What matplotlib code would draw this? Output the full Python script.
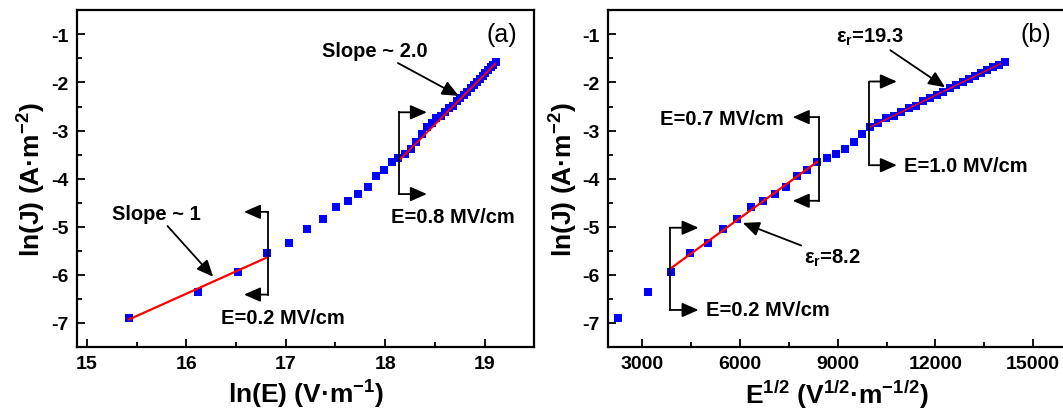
import numpy as np
import matplotlib
matplotlib.use("Agg")
import matplotlib.pyplot as plt
from matplotlib.ticker import MultipleLocator

plt.rcParams['font.family'] = ['Liberation Sans', 'DejaVu Sans']
plt.rcParams['font.weight'] = 'bold'
plt.rcParams['axes.unicode_minus'] = False
plt.rcParams['mathtext.fontset'] = 'custom'
plt.rcParams['mathtext.rm'] = 'Liberation Sans:bold'
plt.rcParams['mathtext.it'] = 'Liberation Sans:bold'
plt.rcParams['mathtext.bf'] = 'Liberation Sans:bold'

# applied field (MV/cm) and measured current density ln(J)
E_MVcm = [0.05, 0.10, 0.15, 0.20, 0.25, 0.30, 0.35, 0.40, 0.45, 0.50,
          0.55, 0.60, 0.65, 0.70, 0.75, 0.80, 0.85, 0.90, 0.95, 1.00,
          1.05, 1.10, 1.15, 1.20, 1.25, 1.30, 1.35, 1.40, 1.45, 1.50,
          1.55, 1.60, 1.65, 1.70, 1.75, 1.80, 1.85, 1.90, 1.95, 2.00]
lnJ = [-6.89, -6.35, -5.94, -5.54, -5.33, -5.05, -4.84, -4.59, -4.47, -4.32,
       -4.17, -3.94, -3.82, -3.66, -3.58, -3.48, -3.39, -3.24, -3.08, -2.93,
       -2.84, -2.74, -2.69, -2.62, -2.53, -2.48, -2.39, -2.32, -2.27, -2.20,
       -2.12, -2.05, -1.99, -1.92, -1.86, -1.80, -1.74, -1.68, -1.63, -1.58]

# fitted line end points
fit_a1_x = [15.42, 16.81]
fit_a1_y = [-6.93, -5.64]
fit_a2_x = [18.15, 19.11]
fit_a2_y = [-3.60, -1.61]
fit_b1_x = [3880, 8370]
fit_b1_y = [-5.86, -3.65]
fit_b2_x = [9960, 14000]
fit_b2_y = [-2.94, -1.61]

E_Vm = np.array(E_MVcm) * 1e8
lnE = np.log(E_Vm)
sqrtE = np.sqrt(E_Vm)

ARROW = dict(arrowstyle='-|>,head_length=0.5,head_width=0.22', color='black',
             lw=1.3, mutation_scale=20, shrinkA=0, shrinkB=0)
TXT = 14.5


def bracket(ax, x, y_top, y_bot, x_end):
    ax.plot([x, x], [y_top, y_bot], color='black', lw=1.3, zorder=4)
    for y in (y_top, y_bot):
        ax.annotate('', xy=(x_end, y), xytext=(x, y), arrowprops=ARROW, zorder=4)


def pointer(ax, text, xy, xytext, **kw):
    ax.annotate(text, xy=xy, xytext=xytext, arrowprops=ARROW,
                fontsize=TXT, fontweight='bold', **kw)


def style_axes(ax):
    for sp in ax.spines.values():
        sp.set_linewidth(1.6)
    ax.tick_params(which='both', direction='in', width=1.3, labelsize=14,
                   top=False, right=False)
    ax.tick_params(which='major', length=5.5, pad=6)
    ax.tick_params(which='minor', length=3.5)
    for lab in ax.get_xticklabels() + ax.get_yticklabels():
        lab.set_fontweight('bold')
    ax.set_ylim(-7.5, -0.5)
    ax.yaxis.set_major_locator(MultipleLocator(1))
    ax.yaxis.set_minor_locator(MultipleLocator(0.5))
    ax.set_ylabel('ln(J) (A·m$^{-2}$)', fontsize=19, fontweight='bold', labelpad=2)


fig = plt.figure(figsize=(10.63, 4.10), dpi=100)
ax1 = fig.add_axes([0.0724, 0.1512, 0.4302, 0.8212])
ax2 = fig.add_axes([0.5722, 0.1512, 0.4302, 0.8212])

# (a) ln(J) vs ln(E)
ax1.plot(lnE, lnJ, 's', color='#0000FF', markersize=5.4, markeredgewidth=0, zorder=2)
ax1.plot(fit_a1_x, fit_a1_y, color='#FF0000', lw=1.6, zorder=3)
ax1.plot(fit_a2_x, fit_a2_y, color='#FF0000', lw=1.4, zorder=3)
ax1.set_xlim(14.9, 19.5)
ax1.xaxis.set_major_locator(MultipleLocator(1))
ax1.xaxis.set_minor_locator(MultipleLocator(0.5))
style_axes(ax1)
ax1.set_xlabel('ln(E) (V·m$^{-1}$)', fontsize=19, fontweight='bold', labelpad=4)

bracket(ax1, 16.82, -4.69, -6.41, 16.58)
ax1.text(16.97, -6.88, 'E=0.2 MV/cm', fontsize=TXT, fontweight='bold', ha='center', va='center')
pointer(ax1, 'Slope ~ 1', xy=(16.27, -6.04), xytext=(15.70, -4.73), ha='center', va='center')
bracket(ax1, 18.14, -2.62, -4.32, 18.42)
ax1.text(18.68, -4.79, 'E=0.8 MV/cm', fontsize=TXT, fontweight='bold', ha='center', va='center')
pointer(ax1, 'Slope ~ 2.0', xy=(18.74, -2.28), xytext=(17.90, -1.34), ha='center', va='center')
ax1.text(19.17, -1.0, '(a)', fontsize=18, fontweight='normal', ha='center', va='center')

# (b) ln(J) vs E^1/2
ax2.plot(sqrtE, lnJ, 's', color='#0000FF', markersize=5.4, markeredgewidth=0, zorder=2)
ax2.plot(fit_b1_x, fit_b1_y, color='#FF0000', lw=1.6, zorder=3)
ax2.plot(fit_b2_x, fit_b2_y, color='#FF0000', lw=1.0, zorder=3)
ax2.set_xlim(1950, 16000)
ax2.xaxis.set_major_locator(MultipleLocator(3000))
ax2.xaxis.set_minor_locator(MultipleLocator(1500))
style_axes(ax2)
ax2.set_xlabel('E$^{1/2}$ (V$^{1/2}$·m$^{-1/2}$)', fontsize=19, fontweight='bold', labelpad=4)

bracket(ax2, 3837, -5.02, -6.73, 4725)
ax2.text(4965, -6.73, 'E=0.2 MV/cm', fontsize=TXT, fontweight='bold', ha='left', va='center')
bracket(ax2, 8412, -2.72, -4.46, 7619)
ax2.text(7336, -2.74, 'E=0.7 MV/cm', fontsize=TXT, fontweight='bold', ha='right', va='center')
bracket(ax2, 9971, -1.98, -3.72, 10817)
ax2.text(11047, -3.72, 'E=1.0 MV/cm', fontsize=TXT, fontweight='bold', ha='left', va='center')
pointer(ax2, 'ε$_{r}$=8.2', xy=(6084, -4.92), xytext=(7963, -5.64), ha='left', va='center')
pointer(ax2, 'ε$_{r}$=19.3', xy=(12299, -2.10), xytext=(11050, -1.05), ha='right', va='center')
ax2.text(15091, -1.0, '(b)', fontsize=18, fontweight='normal', ha='center', va='center')

fig.savefig('out.png', dpi=100)
